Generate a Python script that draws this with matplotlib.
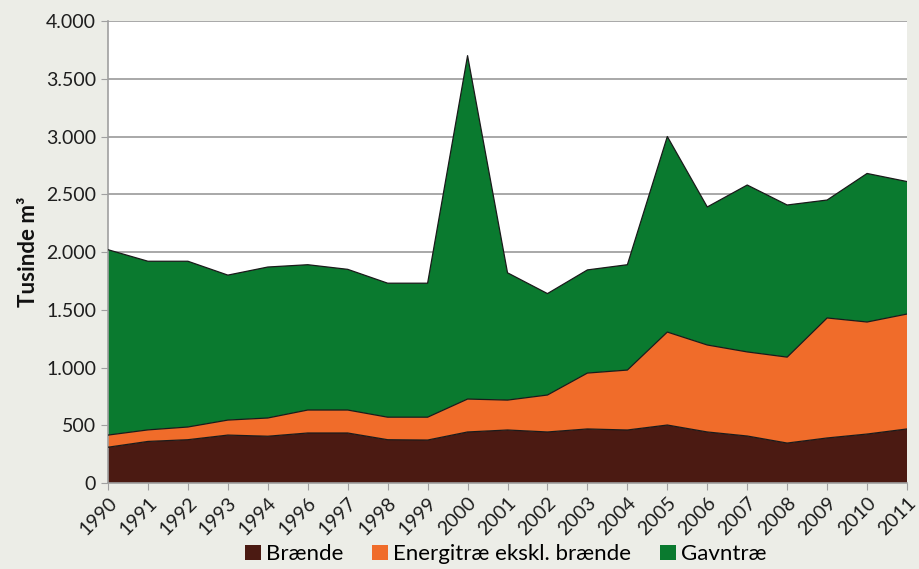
import matplotlib.pyplot as plt
import numpy as np
from matplotlib.patches import Patch
from matplotlib.ticker import FuncFormatter, MultipleLocator

years = ["1990", "1991", "1992", "1993", "1994", "1996", "1997", "1998", "1999", "2000", "2001",
         "2002", "2003", "2004", "2005", "2006", "2007", "2008", "2009", "2010", "2011"]

# thousand m3
braende = [310, 360, 375, 415, 405, 433, 433, 375, 372, 442, 459,
           442, 468, 459, 502, 442, 407, 346, 390, 424, 468]
energitrae = [105, 100, 110, 130, 158, 199, 199, 195, 198, 285, 259,
              320, 484, 519, 805, 753, 728, 744, 1039, 970, 995]
gavntrae = [1605, 1460, 1435, 1255, 1307, 1258, 1218, 1160, 1160, 2973, 1102,
            878, 893, 912, 1693, 1195, 1445, 1317, 1021, 1286, 1147]

labels = ["Brænde", "Energitræ ekskl. brænde", "Gavntræ"]
colors = ["#4b1a12", "#f06c2a", "#0a7a2f"]

plt.rcParams["font.family"] = ["Lato", "DejaVu Sans"]

fig = plt.figure(figsize=(9.2, 5.69), dpi=100, facecolor="#ecede7")
ax = fig.add_axes([0.1174, 0.1511, 0.8685, 0.812])

x = np.arange(len(years))
ax.stackplot(x, braende, energitrae, gavntrae, colors=colors, zorder=2)

# thin dark outline on top of each layer
tops = np.cumsum([braende, energitrae, gavntrae], axis=0)
for top in tops:
    ax.plot(x, top, color="#1a1a1a", lw=0.9, zorder=3)

ax.set_xlim(0, len(years) - 1)
ax.set_ylim(0, 4000)
ax.yaxis.set_major_locator(MultipleLocator(500))
ax.yaxis.set_major_formatter(FuncFormatter(lambda v, _: f"{int(v):,}".replace(",", ".")))
ax.set_xticks(x)
ax.set_xticklabels(years, rotation=45, ha="right", va="top", rotation_mode="anchor")

ax.grid(axis="y", color="#a8a8a8", lw=1.4, zorder=1)
ax.set_axisbelow(True)
for side in ["top", "right"]:
    ax.spines[side].set_visible(False)
for side in ["left", "bottom"]:
    ax.spines[side].set_color("#a0a0a0")
    ax.spines[side].set_linewidth(1.2)
ax.tick_params(axis="both", colors="#a0a0a0", labelcolor="#1e1e1e", labelsize=14, length=5)
ax.tick_params(axis="x", pad=3)
ax.set_ylabel("Tusinde m³", fontsize=16, fontweight="bold", color="#111111", labelpad=5)

handles = [Patch(facecolor=c, label=l) for c, l in zip(colors, labels)]
fig.legend(handles=handles, loc="center", bbox_to_anchor=(0.55, 0.026), ncol=3, frameon=False,
           fontsize=16, handlelength=0.7, handleheight=0.7, handletextpad=0.25, columnspacing=1.3,
           borderpad=0.1)

fig.savefig("out.png", dpi=100, facecolor=fig.get_facecolor())
